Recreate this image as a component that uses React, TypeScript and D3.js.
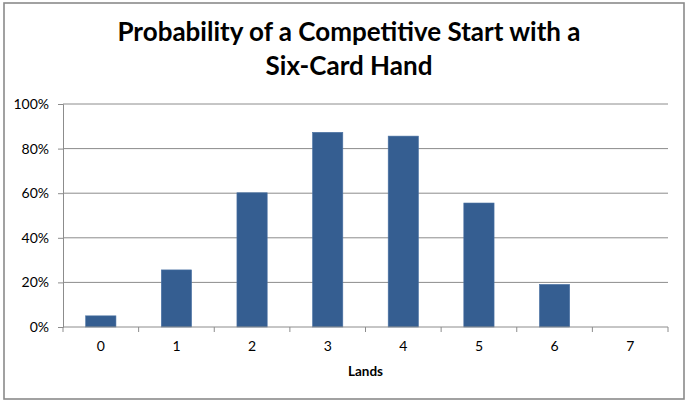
import { useEffect, useRef } from 'react';
import * as d3 from 'd3';

const lands = ['0', '1', '2', '3', '4', '5', '6', '7'];
const probability = [0.05, 0.256, 0.602, 0.873, 0.856, 0.556, 0.191, 0];
const yTicks = [0, 0.2, 0.4, 0.6, 0.8, 1];
const titleLines = ['Probability of a Competitive Start with a', 'Six-Card Hand'];

const width = 690;
const height = 404;
const margin = { top: 104, right: 22, bottom: 77, left: 63 };
const font = 'Lato, "Open Sans", sans-serif';

const App = () => {
  const svgRef = useRef<SVGSVGElement>(null);

  useEffect(() => {
    if (!svgRef.current) return;
    const svg = d3.select(svgRef.current);
    svg.selectAll('*').remove();

    // outer frame
    svg.append('rect')
      .attr('x', 4).attr('y', 3)
      .attr('width', 680).attr('height', 396)
      .attr('fill', 'white')
      .attr('stroke', '#8a8a8a')
      .attr('stroke-width', 1.6);

    const x = d3.scaleBand<string>()
      .domain(lands)
      .range([margin.left, width - margin.right])
      .paddingInner(0.6)
      .paddingOuter(0.3);

    const y = d3.scaleLinear()
      .domain([0, 1])
      .range([height - margin.bottom, margin.top]);

    // gridlines
    svg.append('g')
      .selectAll('line')
      .data(yTicks.slice(1))
      .enter().append('line')
      .attr('x1', margin.left)
      .attr('x2', width - margin.right)
      .attr('y1', d => y(d))
      .attr('y2', d => y(d))
      .attr('stroke', '#8c8c8c')
      .attr('stroke-width', 1);

    // bars
    svg.append('g')
      .selectAll('rect')
      .data(probability)
      .enter().append('rect')
      .attr('x', (d, i) => x(lands[i]) || 0)
      .attr('width', x.bandwidth())
      .attr('y', d => y(d))
      .attr('height', d => y(0) - y(d))
      .attr('fill', '#355e91')
      .attr('stroke', '#4a72a3')
      .attr('stroke-width', 0.6);

    // y axis
    const yAxis = d3.axisLeft(y)
      .tickValues(yTicks)
      .tickFormat(d3.format('.0%'))
      .tickSize(5)
      .tickPadding(9);

    const gy = svg.append('g')
      .attr('transform', `translate(${margin.left},0)`)
      .call(yAxis);
    gy.select('.domain').attr('stroke', '#8c8c8c');
    gy.selectAll('.tick line').attr('stroke', '#8c8c8c');
    gy.selectAll('.tick text')
      .attr('fill', '#000')
      .style('font-family', font)
      .style('font-size', '14px');

    // x axis with ticks between categories
    const step = x.step();
    const x0 = margin.left;
    const boundaries = d3.range(lands.length + 1).map(i => x0 + i * step);
    const gx = svg.append('g');
    gx.append('line')
      .attr('x1', margin.left)
      .attr('x2', width - margin.right)
      .attr('y1', y(0))
      .attr('y2', y(0))
      .attr('stroke', '#8c8c8c');
    gx.selectAll('.bt')
      .data(boundaries)
      .enter().append('line')
      .attr('x1', d => d)
      .attr('x2', d => d)
      .attr('y1', y(0))
      .attr('y2', y(0) + 5)
      .attr('stroke', '#8c8c8c');
    gx.selectAll('text')
      .data(lands)
      .enter().append('text')
      .attr('x', d => (x(d) || 0) + x.bandwidth() / 2)
      .attr('y', y(0) + 24)
      .attr('text-anchor', 'middle')
      .style('font-family', font)
      .style('font-size', '14px')
      .text(d => d);

    // axis title
    svg.append('text')
      .attr('x', (margin.left + width - margin.right) / 2)
      .attr('y', 376)
      .attr('text-anchor', 'middle')
      .style('font-family', font)
      .style('font-weight', 'bold')
      .style('font-size', '13.5px')
      .text('Lands');

    // chart title
    svg.append('g')
      .selectAll('text')
      .data(titleLines)
      .enter().append('text')
      .attr('x', 349)
      .attr('y', (d, i) => 41 + i * 34)
      .attr('text-anchor', 'middle')
      .style('font-family', font)
      .style('font-weight', 'bold')
      .style('font-size', '26px')
      .text(d => d);
  }, []);

  return (
    <>
      <style>{'body{margin:0}'}</style>
      <svg ref={svgRef} width={width} height={height} style={{ display: 'block' }} />
    </>
  );
};

export default App;
